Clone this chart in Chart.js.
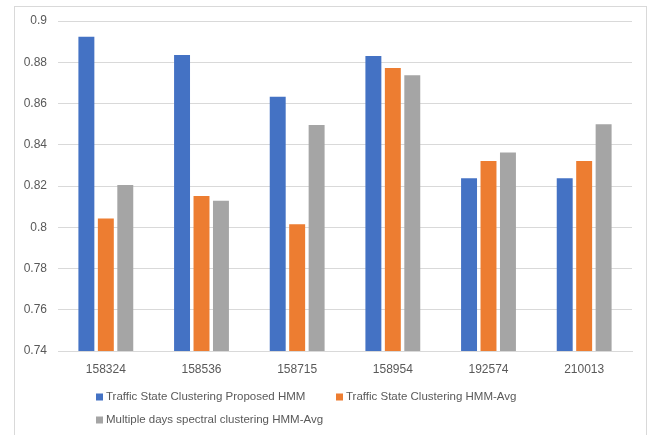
<!DOCTYPE html>
<html>
<head>
<meta charset="utf-8">
<script src="https://cdn.jsdelivr.net/npm/chart.js@4.4.1/dist/chart.umd.min.js"></script>
<style>
  html, body { margin: 0; padding: 0; background: #ffffff; }
  #wrap { width: 655px; height: 435px; }
</style>
</head>
<body>
<div id="wrap"><canvas id="c" width="655" height="435"></canvas></div>
<script>
// Detector IDs along the x axis
const categories = ['158324', '158536', '158715', '158954', '192574', '210013'];

// Accuracy per method
const proposedHMM = [0.8924, 0.8835, 0.8633, 0.8830, 0.8237, 0.8237];
const clusteringAvg = [0.8043, 0.8152, 0.8014, 0.8772, 0.8321, 0.8321];
const spectralAvg = [0.8205, 0.8129, 0.8496, 0.8737, 0.8363, 0.8499];

const seriesNames = [
  'Traffic State Clustering Proposed HMM',
  'Traffic State Clustering HMM-Avg',
  'Multiple days spectral clustering HMM-Avg'
];

// Y axis range and ticks
const yMin = 0.74;
const yMax = 0.9;
const yStep = 0.02;

const colors = ['#4472C4', '#ED7D31', '#A5A5A5'];
const textColor = '#595959';
const gridColor = '#D9D9D9';
const fontFamily = '"Liberation Sans", Arial, sans-serif';

// Outer frame around the whole chart
const framePlugin = {
  id: 'frame',
  beforeDraw(chart) {
    const ctx = chart.ctx;
    ctx.save();
    ctx.strokeStyle = gridColor;
    ctx.lineWidth = 1;
    ctx.strokeRect(14.5, 6.5, 632, 500);
    ctx.restore();
  }
};

// Legend laid out in two columns, wrapping to a second row
const legendPlugin = {
  id: 'gridLegend',
  afterDraw(chart) {
    const ctx = chart.ctx;
    const slots = [
      { x: 96, y: 397 },
      { x: 336, y: 397 },
      { x: 96, y: 420 }
    ];
    ctx.save();
    ctx.font = '11.5px ' + fontFamily;
    ctx.textBaseline = 'middle';
    ctx.textAlign = 'left';
    chart.data.datasets.forEach((ds, i) => {
      const s = slots[i];
      ctx.fillStyle = ds.backgroundColor;
      ctx.fillRect(s.x, s.y - 3.5, 7, 7);
      ctx.fillStyle = textColor;
      ctx.fillText(ds.label, s.x + 10, s.y);
    });
    ctx.restore();
  }
};

const datasets = [proposedHMM, clusteringAvg, spectralAvg].map((vals, i) => ({
  label: seriesNames[i],
  data: vals,
  backgroundColor: colors[i],
  borderWidth: 0,
  barPercentage: 0.82,
  categoryPercentage: 0.61
}));

new Chart(document.getElementById('c'), {
  type: 'bar',
  data: { labels: categories, datasets },
  options: {
    responsive: false,
    animation: false,
    devicePixelRatio: 1,
    layout: { padding: { left: 0, top: 21, right: 23, bottom: 0 } },
    plugins: {
      legend: { display: false },
      tooltip: { enabled: false }
    },
    scales: {
      x: {
        grid: { display: false, drawTicks: false },
        border: { display: true, color: gridColor },
        ticks: { color: textColor, padding: 11, font: { family: fontFamily, size: 12 } },
        afterFit(scale) { scale.height = 84; }
      },
      y: {
        min: yMin,
        max: yMax,
        border: { display: false },
        grid: { color: gridColor, drawTicks: false },
        ticks: {
          stepSize: yStep,
          color: textColor,
          padding: 11,
          font: { family: fontFamily, size: 12 },
          callback: v => String(+v.toFixed(2))
        },
        afterFit(scale) { scale.width = 58; }
      }
    }
  },
  plugins: [framePlugin, legendPlugin]
});
</script>
</body>
</html>
